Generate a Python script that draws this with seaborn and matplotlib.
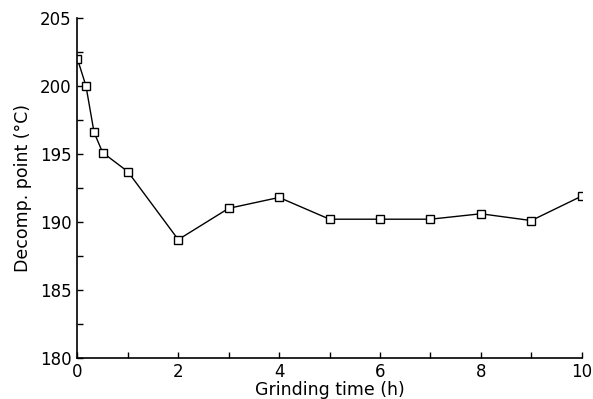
import matplotlib
matplotlib.use("Agg")
import matplotlib.pyplot as plt
import seaborn as sns
import pandas as pd
from matplotlib.ticker import MultipleLocator

grinding_time = [0, 0.17, 0.33, 0.5, 1, 2, 3, 4, 5, 6, 7, 8, 9, 10]
decomp_point = [202.0, 200.0, 196.6, 195.1, 193.7, 188.7, 191.0, 191.8, 190.2, 190.2, 190.2, 190.6, 190.1, 191.9]

df = pd.DataFrame({"t": grinding_time, "d": decomp_point})

sns.set_style("ticks")
plt.rcParams["font.family"] = ["DejaVu Sans"]

fig = plt.figure(figsize=(5.93, 3.99), dpi=100)
ax = fig.add_axes([0.1305, 0.103, 0.981 - 0.1305, 0.955 - 0.103])

sns.lineplot(data=df, x="t", y="d", ax=ax, color="black", linewidth=1.0,
             marker="s", markersize=5.5, markerfacecolor="white",
             markeredgecolor="black", markeredgewidth=1.0)

ax.set_xlim(0, 10)
ax.set_ylim(180, 205)
ax.xaxis.set_major_locator(MultipleLocator(2))
ax.xaxis.set_minor_locator(MultipleLocator(1))
ax.yaxis.set_major_locator(MultipleLocator(5))
ax.yaxis.set_minor_locator(MultipleLocator(2.5))
ax.tick_params(which="both", direction="in", width=1.0, length=4,
               labelsize=12, colors="black")
ax.tick_params(axis="x", pad=4)
ax.tick_params(axis="y", pad=4)
for s in ["top", "right"]:
    ax.spines[s].set_visible(False)
for s in ["left", "bottom"]:
    ax.spines[s].set_linewidth(1.2)
    ax.spines[s].set_color("black")

ax.set_xlabel("Grinding time (h)", fontsize=12.5, labelpad=0, color="black")
ax.set_ylabel("Decomp. point (\u00b0C)", fontsize=12.5, labelpad=6, color="black")

fig.savefig("out.png", dpi=100)
